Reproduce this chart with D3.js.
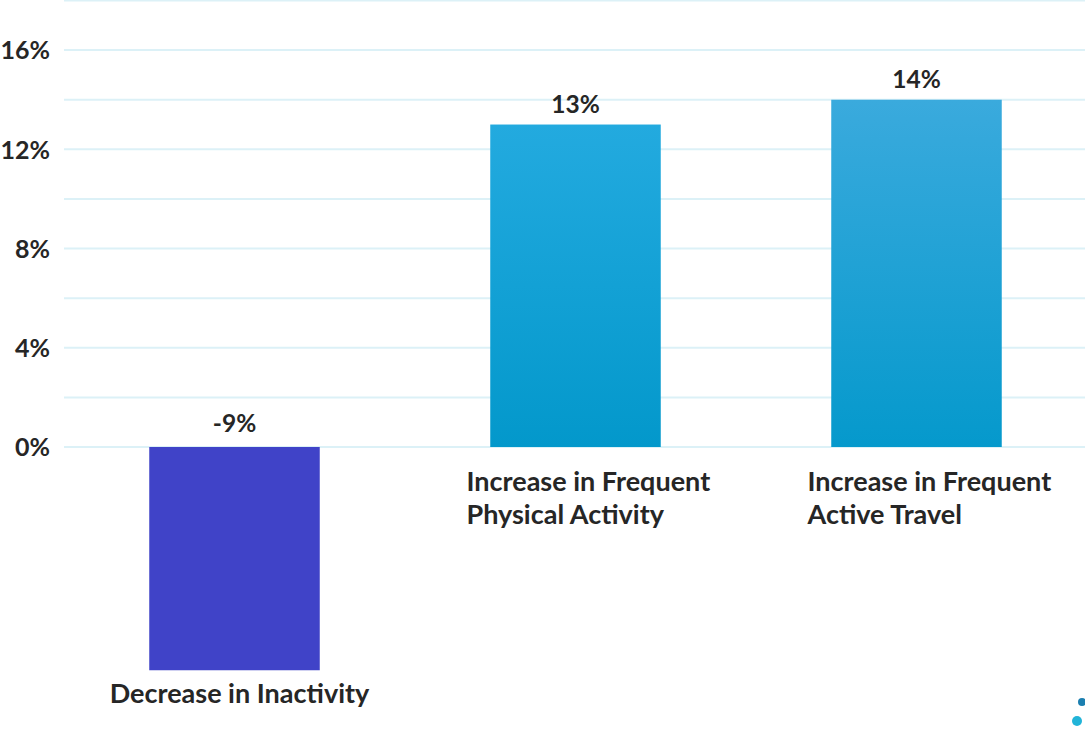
<!DOCTYPE html>
<html>
<head>
<meta charset="utf-8">
<script src="https://cdn.jsdelivr.net/npm/d3@7"></script>
<style>
  html, body { margin: 0; padding: 0; background: #ffffff; }
  svg { display: block; }
  text { font-family: Lato, "Open Sans", sans-serif; font-weight: 700; fill: #262626; }
</style>
</head>
<body>
<svg id="chart" width="1085" height="745"></svg>
<script>
// Change in activity measures (percent)
const categories = [
  ["Decrease in Inactivity"],
  ["Increase in Frequent", "Physical Activity"],
  ["Increase in Frequent", "Active Travel"]
];
const values = [-9, 13, 14];
const tickValues = [0, 4, 8, 12, 16];
const gridValues = [0, 2, 4, 6, 8, 10, 12, 14, 16, 18];

const svg = d3.select("#chart");
const W = 1085, H = 745;

const x = d3.scaleBand()
  .domain(d3.range(values.length))
  .range([64, 1087])
  .paddingInner(0.5)
  .paddingOuter(0.25);

const y = d3.scaleLinear()
  .domain([0, 18])
  .range([447, 0.5]);

// bar fills: solid violet for the negative bar, vertical blue gradients for the others
const defs = svg.append("defs");
const grads = [
  null,
  ["#23aadf", "#0398cb"],
  ["#3aaadd", "#0599cc"]
];
grads.forEach((g, i) => {
  if (!g) return;
  const lg = defs.append("linearGradient")
    .attr("id", "grad" + i)
    .attr("x1", 0).attr("y1", 0).attr("x2", 0).attr("y2", 1);
  lg.append("stop").attr("offset", "0%").attr("stop-color", g[0]);
  lg.append("stop").attr("offset", "100%").attr("stop-color", g[1]);
});
const fills = ["#4043c8", "url(#grad1)", "url(#grad2)"];

// horizontal gridlines (positive region only)
svg.append("g")
  .selectAll("line")
  .data(gridValues)
  .join("line")
  .attr("x1", 64).attr("x2", W)
  .attr("y1", d => y(d)).attr("y2", d => y(d))
  .attr("stroke", "#dcf1f7")
  .attr("stroke-width", 2);

// y axis labels
const yAxis = d3.axisLeft(y)
  .tickValues(tickValues)
  .tickSize(0)
  .tickPadding(0)
  .tickFormat(d => d + "%");
const ya = svg.append("g")
  .attr("transform", "translate(50,0)")
  .call(yAxis);
ya.select(".domain").remove();
ya.selectAll("text")
  .attr("font-size", 25)
  .attr("font-family", "Lato, sans-serif")
  .attr("font-weight", 700)
  .attr("fill", "#262626")
  .attr("dy", "0.35em");

// bars
svg.append("g")
  .selectAll("rect")
  .data(values)
  .join("rect")
  .attr("x", (d, i) => x(i))
  .attr("width", x.bandwidth())
  .attr("y", d => y(Math.max(0, d)))
  .attr("height", d => Math.abs(y(d) - y(0)))
  .attr("fill", (d, i) => fills[i]);

// value labels above each bar (negative bar labelled above the zero line)
svg.append("g")
  .selectAll("text")
  .data(values)
  .join("text")
  .attr("x", (d, i) => x(i) + x.bandwidth() / 2)
  .attr("y", d => y(Math.max(0, d)) - (d < 0 ? 15 : 12))
  .attr("text-anchor", "middle")
  .attr("font-size", 24.5)
  .text(d => d + "%");

// category labels: below the bar for the negative value, below the zero line otherwise
const cat = svg.append("g")
  .selectAll("text")
  .data(categories)
  .join("text")
  .attr("font-size", 27)
  .attr("text-anchor", (d, i) => values[i] < 0 ? "middle" : "start")
  .attr("x", (d, i) => values[i] < 0
    ? x(i) + x.bandwidth() / 2 + 5
    : x(i) + x.bandwidth() / 2 - 109)
  .attr("y", (d, i) => values[i] < 0 ? y(values[i]) + 33 : y(0) + 44);
cat.selectAll("tspan")
  .data(d => d)
  .join("tspan")
  .attr("x", function () { return d3.select(this.parentNode).attr("x"); })
  .attr("dy", (d, j) => j === 0 ? 0 : 33)
  .text(d => d);

// small corner logo dots
const dots = svg.append("g");
dots.append("circle").attr("cx", 1082).attr("cy", 702).attr("r", 4).attr("fill", "#1b7fb0");
dots.append("circle").attr("cx", 1077).attr("cy", 721).attr("r", 5).attr("fill", "#22b4d8");
</script>
</body>
</html>
